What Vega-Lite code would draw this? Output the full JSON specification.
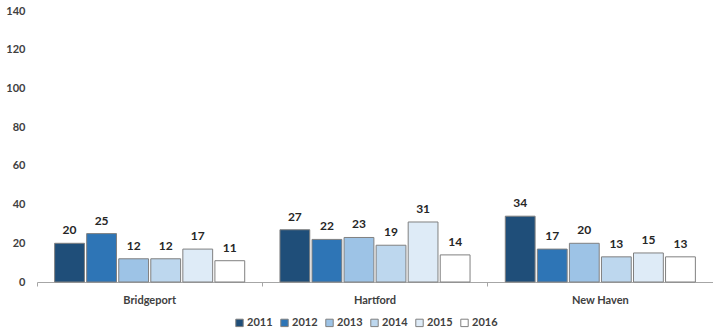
{
  "$schema": "https://vega.github.io/schema/vega-lite/v6.json",
  "autosize": "none",
  "width": 676,
  "height": 271,
  "padding": {"left": 37, "top": 11, "right": 0, "bottom": 53},
  "background": "white",
  "config": {
    "view": {"stroke": null},
    "font": "Lato",
    "axis": {"labelFont": "Lato", "labelFontWeight": "bold", "labelColor": "#404040", "labelFontSize": 11}
  },
  "data": {
    "values": [
      {"city": "Bridgeport", "year": "2011", "value": 20},
      {"city": "Bridgeport", "year": "2012", "value": 25},
      {"city": "Bridgeport", "year": "2013", "value": 12},
      {"city": "Bridgeport", "year": "2014", "value": 12},
      {"city": "Bridgeport", "year": "2015", "value": 17},
      {"city": "Bridgeport", "year": "2016", "value": 11},
      {"city": "Hartford", "year": "2011", "value": 27},
      {"city": "Hartford", "year": "2012", "value": 22},
      {"city": "Hartford", "year": "2013", "value": 23},
      {"city": "Hartford", "year": "2014", "value": 19},
      {"city": "Hartford", "year": "2015", "value": 31},
      {"city": "Hartford", "year": "2016", "value": 14},
      {"city": "New Haven", "year": "2011", "value": 34},
      {"city": "New Haven", "year": "2012", "value": 17},
      {"city": "New Haven", "year": "2013", "value": 20},
      {"city": "New Haven", "year": "2014", "value": 13},
      {"city": "New Haven", "year": "2015", "value": 15},
      {"city": "New Haven", "year": "2016", "value": 13}
    ]
  },
  "encoding": {
    "x": {
      "field": "city", "type": "nominal", "title": null,
      "scale": {"paddingInner": 0, "paddingOuter": 0},
      "axis": {"labelAngle": 0, "bandPosition": 0, "domainColor": "#a6a6a6", "tickColor": "#a6a6a6", "tickSize": 4, "labelPadding": 8, "labelFontSize": 11}
    },
    "xOffset": {
      "field": "year", "type": "nominal",
      "scale": {"paddingInner": 0.07, "paddingOuter": 0.55}
    },
    "y": {
      "field": "value", "type": "quantitative", "title": null,
      "scale": {"domain": [0, 140]},
      "axis": {"values": [0, 20, 40, 60, 80, 100, 120, 140], "domain": false, "ticks": false, "grid": false, "labelPadding": 12}
    }
  },
  "layer": [
    {
      "mark": {"type": "bar", "stroke": "#808080", "strokeWidth": 1},
      "encoding": {
        "fill": {
          "field": "year", "type": "nominal", "title": null,
          "scale": {"domain": ["2011", "2012", "2013", "2014", "2015", "2016"],
                    "range": ["#1f4e79", "#2e75b6", "#9dc3e6", "#bdd7ee", "#deebf7", "#ffffff"]},
          "legend": {"orient": "none", "legendX": 197, "legendY": 306, "direction": "horizontal",
                     "symbolType": "square", "symbolSize": 55, "symbolStrokeColor": "#808080", "symbolStrokeWidth": 1,
                     "labelFont": "Lato", "labelFontWeight": "bold", "labelFontSize": 11, "labelColor": "#404040",
                     "columnPadding": 5, "labelOffset": 2}
        }
      }
    },
    {
      "mark": {"type": "text", "baseline": "bottom", "dy": -6, "font": "Lato", "fontWeight": "bold", "fontSize": 12, "color": "#262626"},
      "encoding": {"text": {"field": "value", "type": "quantitative"}}
    }
  ]
}
